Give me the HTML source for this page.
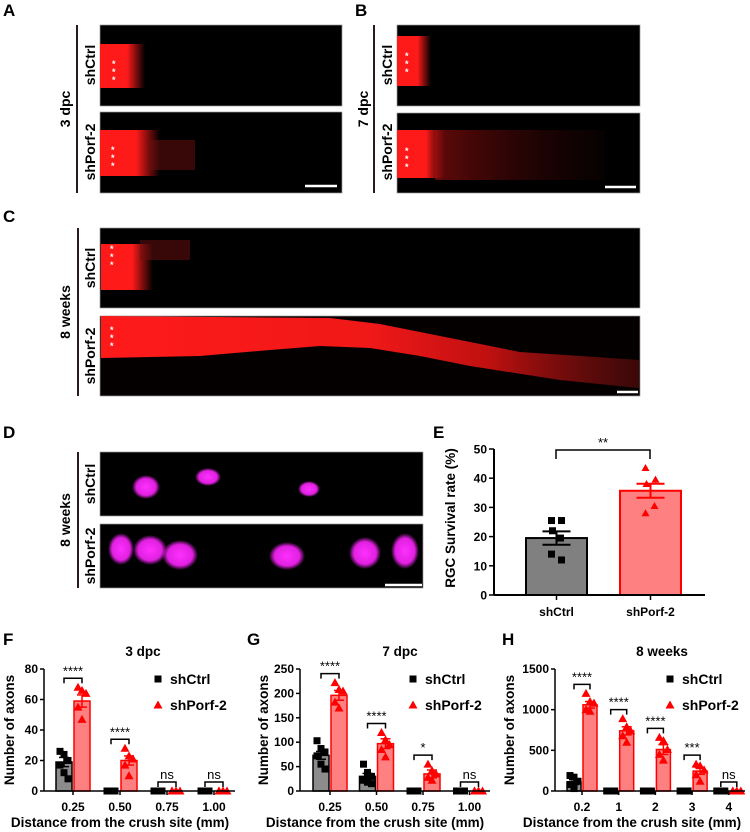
<!DOCTYPE html>
<html><head><meta charset="utf-8"><style>
body{margin:0;background:#fff;}
svg{display:block;font-family:"Liberation Sans",Arial,sans-serif;}
.pl{font-size:17px;font-weight:bold;}
.vt{font-size:14px;font-weight:bold;}
.tk{font-size:12px;font-weight:bold;}
.ti{font-size:13.5px;font-weight:bold;}
.lg{font-size:14px;font-weight:bold;}
</style></head><body>
<svg id="fig" width="750" height="832" viewBox="0 0 750 832">
<defs>
<linearGradient id="fadeR" x1="0" x2="1" y1="0" y2="0"><stop offset="0" stop-color="#ff1a1a"/><stop offset="0.6" stop-color="#ff1a1a"/><stop offset="1" stop-color="#ff1a1a" stop-opacity="0"/></linearGradient>
<linearGradient id="bandG" x1="0" x2="1" y1="0" y2="0"><stop offset="0" stop-color="#ff1a1a"/><stop offset="0.5" stop-color="#f01818"/><stop offset="0.72" stop-color="#c01010"/><stop offset="1" stop-color="#701010" stop-opacity="0.5"/></linearGradient>
<linearGradient id="dimR" x1="0" x2="1" y1="0" y2="0"><stop offset="0" stop-color="#b01010"/><stop offset="1" stop-color="#400808" stop-opacity="0.2"/></linearGradient>
<radialGradient id="mag"><stop offset="0" stop-color="#ff30ff"/><stop offset="0.7" stop-color="#e020e0"/><stop offset="1" stop-color="#e020e0" stop-opacity="0"/></radialGradient>
</defs>

<!-- Panel A -->
<g>
<text class="pl" x="3" y="16">A</text>
<line x1="77" y1="25" x2="77" y2="193" stroke="#2a1a1a" stroke-width="2"/>
<text class="vt" transform="translate(70,109) rotate(-90)" text-anchor="middle">3 dpc</text>
<text class="vt" transform="translate(95,65) rotate(-90)" text-anchor="middle">shCtrl</text>
<text class="vt" transform="translate(95,152) rotate(-90)" text-anchor="middle">shPorf-2</text>
<rect x="100" y="25" width="242" height="81" fill="#000" stroke="#999" stroke-width="0.7"/>
<rect x="100" y="44" width="45" height="44" fill="url(#fadeR)"/>
<rect x="100" y="112" width="242" height="81" fill="#000" stroke="#999" stroke-width="0.7"/>
<rect x="100" y="130" width="60" height="46" fill="url(#fadeR)"/>
<rect x="150" y="140" width="45" height="30" fill="#701010" opacity="0.5"/>
<text x="112" y="67" fill="#fff" font-size="9" font-weight="bold">*</text><text x="112" y="75" fill="#fff" font-size="9" font-weight="bold">*</text><text x="112" y="83" fill="#fff" font-size="9" font-weight="bold">*</text>
<text x="111" y="153" fill="#fff" font-size="9" font-weight="bold">*</text><text x="111" y="161" fill="#fff" font-size="9" font-weight="bold">*</text><text x="111" y="169" fill="#fff" font-size="9" font-weight="bold">*</text>
<line x1="305" y1="186" x2="337" y2="186" stroke="#fff" stroke-width="2.5"/>
</g>

<!-- Panel B -->
<g>
<text class="pl" x="355" y="16">B</text>
<line x1="374" y1="25" x2="374" y2="193" stroke="#2a1a1a" stroke-width="2"/>
<text class="vt" transform="translate(368,109) rotate(-90)" text-anchor="middle">7 dpc</text>
<text class="vt" transform="translate(392,65) rotate(-90)" text-anchor="middle">shCtrl</text>
<text class="vt" transform="translate(392,152) rotate(-90)" text-anchor="middle">shPorf-2</text>
<rect x="397" y="25" width="243" height="81" fill="#000" stroke="#999" stroke-width="0.7"/>
<rect x="397" y="36" width="34" height="50" fill="url(#fadeR)"/>
<rect x="397" y="113" width="243" height="80" fill="#000" stroke="#999" stroke-width="0.7"/>
<rect x="397" y="130" width="48" height="48" fill="url(#fadeR)"/>
<rect x="435" y="130" width="170" height="50" fill="url(#dimR)" opacity="0.55"/>
<text x="405" y="59" fill="#fff" font-size="9" font-weight="bold">*</text><text x="405" y="67" fill="#fff" font-size="9" font-weight="bold">*</text><text x="405" y="75" fill="#fff" font-size="9" font-weight="bold">*</text>
<text x="405" y="154" fill="#fff" font-size="9" font-weight="bold">*</text><text x="405" y="162" fill="#fff" font-size="9" font-weight="bold">*</text><text x="405" y="170" fill="#fff" font-size="9" font-weight="bold">*</text>
<line x1="605" y1="187" x2="636" y2="187" stroke="#fff" stroke-width="2.5"/>
</g>

<!-- Panel C -->
<g>
<text class="pl" x="3" y="222">C</text>
<line x1="78" y1="228" x2="78" y2="396" stroke="#2a1a1a" stroke-width="2"/>
<text class="vt" transform="translate(70,312) rotate(-90)" text-anchor="middle">8 weeks</text>
<text class="vt" transform="translate(95,268) rotate(-90)" text-anchor="middle">shCtrl</text>
<text class="vt" transform="translate(95,356) rotate(-90)" text-anchor="middle">shPorf-2</text>
<rect x="100" y="228" width="540" height="80" fill="#000" stroke="#999" stroke-width="0.7"/>
<rect x="101" y="244" width="52" height="46" fill="url(#fadeR)"/>
<rect x="140" y="240" width="50" height="20" fill="#701010" opacity="0.5"/>
<rect x="100" y="316" width="540" height="80" fill="#050000" stroke="#999" stroke-width="0.7"/>
<path d="M101,316 L330,318 L380,324 L440,336 L520,352 L639,360 L639,388 L560,380 L470,366 L420,356 L370,348 L320,346 L270,350 L200,356 L101,358 Z" fill="url(#bandG)"/>
<text x="110" y="333" fill="#fff" font-size="9" font-weight="bold">*</text><text x="110" y="341" fill="#fff" font-size="9" font-weight="bold">*</text><text x="110" y="349" fill="#fff" font-size="9" font-weight="bold">*</text>
<text x="110" y="252" fill="#fff" font-size="9" font-weight="bold">*</text><text x="110" y="260" fill="#fff" font-size="9" font-weight="bold">*</text><text x="110" y="268" fill="#fff" font-size="9" font-weight="bold">*</text>
<line x1="617" y1="392" x2="638" y2="392" stroke="#fff" stroke-width="2.5"/>
</g>

<!-- Panel D -->
<g>
<text class="pl" x="3" y="438">D</text>
<line x1="78" y1="452" x2="78" y2="588" stroke="#2a1a1a" stroke-width="2"/>
<text class="vt" transform="translate(70,520) rotate(-90)" text-anchor="middle">8 weeks</text>
<text class="vt" transform="translate(95,484) rotate(-90)" text-anchor="middle">shCtrl</text>
<text class="vt" transform="translate(95,556) rotate(-90)" text-anchor="middle">shPorf-2</text>
<rect x="100" y="452" width="323" height="64" fill="#000" stroke="#999" stroke-width="0.7"/>
<ellipse cx="146" cy="487" rx="14" ry="12" fill="url(#mag)"/>
<ellipse cx="208" cy="477" rx="13" ry="9" fill="url(#mag)"/>
<ellipse cx="309" cy="489" rx="11" ry="8" fill="url(#mag)"/>
<rect x="100" y="524" width="323" height="64" fill="#000" stroke="#999" stroke-width="0.7"/>
<ellipse cx="121" cy="549" rx="13" ry="16" fill="url(#mag)"/>
<ellipse cx="150" cy="550" rx="17" ry="15" fill="url(#mag)"/>
<ellipse cx="180" cy="555" rx="18" ry="15" fill="url(#mag)"/>
<ellipse cx="287" cy="556" rx="18" ry="14" fill="url(#mag)"/>
<ellipse cx="365" cy="553" rx="16" ry="16" fill="url(#mag)"/>
<ellipse cx="405" cy="551" rx="14" ry="18" fill="url(#mag)"/>
<line x1="385" y1="585" x2="422" y2="585" stroke="#fff" stroke-width="2.5"/>
</g>

<text class="pl" x="433" y="438">E</text>
<text class="pl" x="3" y="645">F</text>
<text class="pl" x="247" y="645">G</text>
<text class="pl" x="502" y="645">H</text>
<g id="charts"></g>
</svg>
<script>
// ---- Panel E data ----
const eCategories = ["shCtrl", "shPorf-2"];
const eMeans = [19.5, 35.7];
const eErrs = [2.3, 2.4];
const ePtsCtrl = [25.5, 25.5, 22, 19.5, 14, 12];
const ePtsPorf = [43.5, 39.5, 38, 30.5, 28];
const eTicks = [0, 10, 20, 30, 40, 50];
// ---- Panel F data ----
const fCategories = ["0.25", "0.50", "0.75", "1.00"];
const fCtrl = [19, 0, 0, 0];
const fCtrlErr = [3, 0, 0, 0];
const fPorf = [59, 20, 0, 0];
const fPorfErr = [4, 3, 0, 0];
const fCtrlPts = [[26, 24, 20, 17, 12, 8], [0, 0, 0, 0, 0], [0, 0, 0, 0, 0], [0, 0, 0, 0, 0]];
const fPorfPts = [[68, 66, 64, 55, 47], [28, 23, 21, 17, 10], [0, 0, 0, 0, 0], [0, 0, 0, 0, 0]];
const fSig = ["****", "****", "ns", "ns"];
const fTicks = [0, 20, 40, 60, 80];
// ---- Panel G data ----
const gCategories = ["0.25", "0.50", "0.75", "1.00"];
const gCtrl = [73, 30, 0, 0];
const gCtrlErr = [8, 6, 0, 0];
const gPorf = [196, 97, 35, 0];
const gPorfErr = [10, 10, 8, 0];
const gCtrlPts = [[103, 87, 80, 72, 55, 45], [55, 38, 30, 22, 18, 15], [0, 0, 0, 0, 0], [0, 0, 0, 0, 0]];
const gPorfPts = [[222, 208, 205, 182, 170], [120, 105, 95, 85, 70], [55, 42, 35, 28, 22], [0, 0, 0, 0, 0]];
const gSig = ["****", "****", "*", "ns"];
const gTicks = [0, 50, 100, 150, 200, 250];
// ---- Panel H data ----
const hCategories = ["0.2", "1", "2", "3", "4"];
const hCtrl = [110, 0, 0, 0, 0];
const hCtrlErr = [30, 0, 0, 0, 0];
const hPorf = [1060, 740, 510, 245, 0];
const hPorfErr = [40, 50, 60, 40, 0];
const hCtrlPts = [[190, 170, 120, 80, 30], [0, 0, 0], [0, 0, 0], [0, 0, 0], [0, 0, 0]];
const hPorfPts = [[1200, 1100, 1080, 1000, 980], [890, 790, 740, 680, 600], [660, 620, 510, 450, 380], [330, 310, 260, 200, 120], [0, 0, 0, 0, 0]];
const hSig = ["****", "****", "****", "***", "ns"];
const hTicks = [0, 500, 1000, 1500];

const NS = "http://www.w3.org/2000/svg";
const root = document.getElementById("charts");
function mk(tag, attrs, parent, text) {
  const el = document.createElementNS(NS, tag);
  for (const k in attrs) el.setAttribute(k, attrs[k]);
  if (text !== undefined) el.textContent = text;
  (parent || root).appendChild(el);
  return el;
}
function sq(g, x, y) { return mk("rect", {x: x - 3.5, y: y - 3.5, width: 7, height: 7, fill: "#000"}, g); }
function tri(g, x, y) { return mk("path", {d: `M${x},${y - 4.5} L${x + 4.5},${y + 3.5} L${x - 4.5},${y + 3.5} Z`, fill: "#f00"}, g); }

function grouped(c) {
  const g = mk("g", {});
  
  
  const maxV = c.ticks[c.ticks.length - 1];
  const ys = v => c.y0 - (v / maxV) * (c.y0 - c.yTop);
  const xs = i => c.x0 + i * c.step;
  const t = mk("text", {x: c.titleX, y: 656, "text-anchor": "middle", class: "ti", "font-size": "14"}, g, c.title);
  
  
  c.ticks.forEach(v => {
    mk("line", {x1: c.ax - 4, x2: c.ax, y1: ys(v), y2: ys(v), stroke: "#000", "stroke-width": 1.5}, g);
    const tl = mk("text", {x: c.ax - 6, y: ys(v) + 4, "text-anchor": "end", class: "tk"}, g, v);
    
    
  });
  c.cats.forEach((cat, i) => {
    const cx = xs(i), bw = c.bw;
    const b1 = mk("rect", {x: cx - bw - 1, y: ys(c.ctrl[i]), width: bw, height: c.y0 - ys(c.ctrl[i]), fill: "#8c8c8c", stroke: "#000", "stroke-width": 1.5}, g);
    
    
    const b2 = mk("rect", {x: cx + 1, y: ys(c.porf[i]), width: bw, height: c.y0 - ys(c.porf[i]), fill: "#ff8080", stroke: "#f00", "stroke-width": 1.5}, g);
    
    
    const c1 = cx - bw / 2 - 1, c2 = cx + bw / 2 + 1;
    [[c1, c.ctrl[i], c.ctrlErr[i], "#000"], [c2, c.porf[i], c.porfErr[i], "#f00"]].forEach(([x, m, e, col]) => {
      if (e > 0) {
        mk("line", {x1: x, x2: x, y1: ys(m - e), y2: ys(m + e), stroke: col, "stroke-width": 1.5}, g);
        mk("line", {x1: x - 5, x2: x + 5, y1: ys(m + e), y2: ys(m + e), stroke: col, "stroke-width": 1.5}, g);
        mk("line", {x1: x - 5, x2: x + 5, y1: ys(m - e), y2: ys(m - e), stroke: col, "stroke-width": 1.5}, g);
      }
    });
    c.ctrlPts[i].forEach((v, k) => {
      const p = sq(g, c1 + (k % 3 - 1) * 4, ys(v));
      
      
    });
    c.porfPts[i].forEach((v, k) => {
      const p = tri(g, c2 + (k % 3 - 1) * 4, ys(v));
      
      
    });
    const top = Math.max(...c.ctrlPts[i], ...c.porfPts[i], c.porf[i] + c.porfErr[i]);
    const by = ys(top) - 9;
    mk("path", {d: `M${c1},${by + 5} L${c1},${by} L${c2},${by} L${c2},${by + 5}`, fill: "none", stroke: "#000", "stroke-width": 1.5}, g);
    const s = mk("text", {x: (c1 + c2) / 2, y: by - 3, "text-anchor": "middle", "font-size": c.sig[i] === "ns" ? 13 : 13}, g, c.sig[i]);
    
    
    mk("line", {x1: cx, x2: cx, y1: c.y0, y2: c.y0 + 4, stroke: "#000", "stroke-width": 1.5}, g);
    const xl = mk("text", {x: cx, y: c.y0 + 20, "text-anchor": "middle", class: "tk"}, g, cat);
    
    
  });
  mk("line", {x1: c.ax, x2: c.ax, y1: c.yTop, y2: c.y0, stroke: "#000", "stroke-width": 1.5}, g);
  mk("line", {x1: c.ax, x2: c.xEnd, y1: c.y0, y2: c.y0, stroke: "#000", "stroke-width": 1.5}, g);
  const yt = mk("text", {transform: `translate(${c.ax - c.ytOff},${(c.y0 + c.yTop) / 2}) rotate(-90)`, "text-anchor": "middle", class: "ti"}, g, "Number of axons");
  
  
  const xt = mk("text", {x: c.xtX, y: 827, "text-anchor": "middle", class: "ti"}, g, "Distance from the crush site (mm)");
  
  
  sq(g, c.lx, 679);
  const l1 = mk("text", {x: c.lx + 12, y: 684, class: "lg"}, g, "shCtrl");
  
  
  tri(g, c.lx, 705);
  const l2 = mk("text", {x: c.lx + 12, y: 710, class: "lg"}, g, "shPorf-2");
  
  
}

grouped({name: "chart-f-3dpc", title: "3 dpc", titleX: 143, ax: 44, xEnd: 235, yTop: 669, y0: 791, x0: 73, step: 47, bw: 16, ytOff: 30,
  cats: fCategories, ctrl: fCtrl, ctrlErr: fCtrlErr, porf: fPorf, porfErr: fPorfErr, ctrlPts: fCtrlPts, porfPts: fPorfPts, sig: fSig, ticks: fTicks, lx: 158, xtX: 120});
grouped({name: "chart-g-7dpc", title: "7 dpc", titleX: 400, ax: 300, xEnd: 490, yTop: 669, y0: 791, x0: 330, step: 46.5, bw: 16, ytOff: 32,
  cats: gCategories, ctrl: gCtrl, ctrlErr: gCtrlErr, porf: gPorf, porfErr: gPorfErr, ctrlPts: gCtrlPts, porfPts: gPorfPts, sig: gSig, ticks: gTicks, lx: 413, xtX: 375});
grouped({name: "chart-h-8weeks", title: "8 weeks", titleX: 662, ax: 555, xEnd: 745, yTop: 669, y0: 791, x0: 582, step: 36.7, bw: 14, ytOff: 41,
  cats: hCategories, ctrl: hCtrl, ctrlErr: hCtrlErr, porf: hPorf, porfErr: hPorfErr, ctrlPts: hCtrlPts, porfPts: hPorfPts, sig: hSig, ticks: hTicks, lx: 670, xtX: 632});

// ---- Panel E ----
(function () {
  const g = mk("g", {});
  
  
  const ax = 494, y0 = 595, yTop = 449, maxV = eTicks[eTicks.length - 1];
  const ys = v => y0 - (v / maxV) * (y0 - yTop);
  const centers = [556.5, 650.5], bw = 61;
  eTicks.forEach(v => {
    mk("line", {x1: ax - 5, x2: ax, y1: ys(v), y2: ys(v), stroke: "#000", "stroke-width": 1.5}, g);
    const tl = mk("text", {x: ax - 7, y: ys(v) + 4.5, "text-anchor": "end", class: "tk", "font-size": "13"}, g, v);
    
    
  });
  const pts = [ePtsCtrl, ePtsPorf];
  eCategories.forEach((cat, i) => {
    const cx = centers[i], col = i ? "#f00" : "#000";
    const b = mk("rect", {x: cx - bw / 2, y: ys(eMeans[i]), width: bw, height: y0 - ys(eMeans[i]), fill: i ? "#ff8080" : "#808080", stroke: col, "stroke-width": 2}, g);
    
    
    const m = eMeans[i], e = eErrs[i];
    mk("line", {x1: cx, x2: cx, y1: ys(m - e), y2: ys(m + e), stroke: col, "stroke-width": 2}, g);
    mk("line", {x1: cx - 14, x2: cx + 14, y1: ys(m + e), y2: ys(m + e), stroke: col, "stroke-width": 2}, g);
    mk("line", {x1: cx - 14, x2: cx + 14, y1: ys(m - e), y2: ys(m - e), stroke: col, "stroke-width": 2}, g);
    pts[i].forEach((v, k) => {
      const dx = [-5, 5, -4, 4, -5, 5][k];
      const p = i ? mk("path", {d: `M${cx + dx},${ys(v) - 4} L${cx + dx + 4},${ys(v) + 3} L${cx + dx - 4},${ys(v) + 3} Z`, fill: "#f00"}, g)
                  : mk("rect", {x: cx + dx - 3.5, y: ys(v) - 3.5, width: 7, height: 7, fill: "#000"}, g);
      
      
    });
    mk("line", {x1: cx, x2: cx, y1: y0, y2: y0 + 5, stroke: "#000", "stroke-width": 1.5}, g);
    const xl = mk("text", {x: cx, y: y0 + 21, "text-anchor": "middle", class: "tk", "font-size": "13"}, g, cat);
    
    
  });
  mk("line", {x1: ax, x2: ax, y1: yTop, y2: y0, stroke: "#000", "stroke-width": 2}, g);
  mk("line", {x1: ax, x2: 705, y1: y0, y2: y0, stroke: "#000", "stroke-width": 2}, g);
  mk("path", {d: "M556,459 L556,450 L650,450 L650,459", fill: "none", stroke: "#000", "stroke-width": 1.5}, g);
  const s = mk("text", {x: 603, y: 447, "text-anchor": "middle", "font-size": "13"}, g, "**");
  
  
  const yt = mk("text", {transform: `translate(455,${(y0 + yTop) / 2 - 4}) rotate(-90)`, "text-anchor": "middle", class: "ti"}, g, "RGC Survival rate (%)");
  
  
})();
</script>
</body></html>
